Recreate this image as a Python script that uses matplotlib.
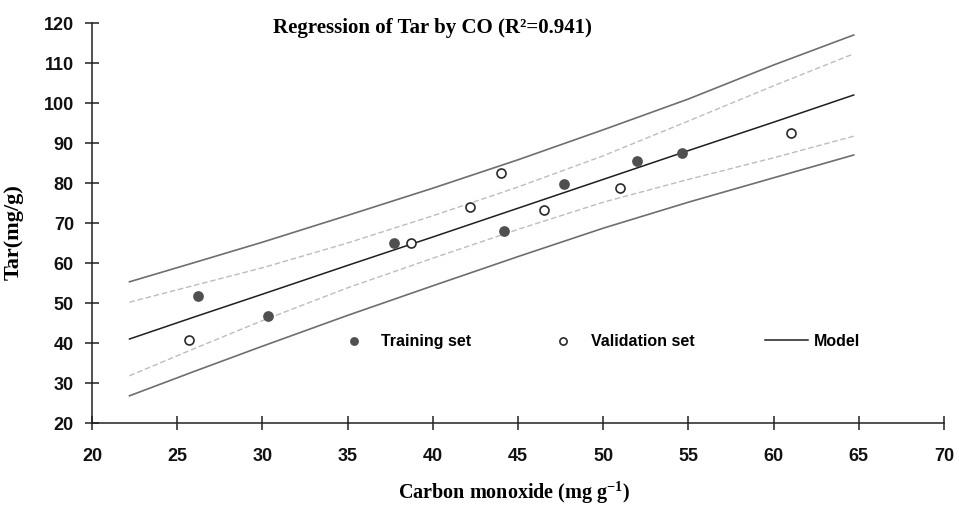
import matplotlib
matplotlib.use("Agg")
import numpy as np
from matplotlib import pyplot as plt

# points
train_x = [26.2, 30.3, 37.7, 44.2, 47.7, 52.0, 54.6]
train_y = [51.8, 46.7, 65.0, 68.0, 79.8, 85.5, 87.4]
valid_x = [25.7, 38.7, 42.2, 44.0, 46.5, 51.0, 61.0]
valid_y = [40.7, 65.0, 73.9, 82.5, 73.3, 78.7, 92.4]

# model line and interval bands
band_x = [22.2, 26, 30, 35, 40, 45, 50, 55, 60, 64.7]
model_y = [41.0, 46.5, 52.2, 59.4, 66.5, 73.7, 80.9, 88.1, 95.2, 102.0]
pi_upper = [55.3, 60.1, 65.2, 71.9, 78.7, 85.8, 93.3, 101.0, 109.5, 117.0]
pi_lower = [26.8, 32.9, 39.2, 46.9, 54.3, 61.6, 68.7, 75.2, 81.3, 87.0]
ci_upper = [50.2, 54.4, 58.8, 65.0, 71.8, 79.0, 86.8, 95.5, 104.3, 112.3]
ci_lower = [31.8, 38.6, 45.6, 53.8, 61.2, 68.4, 75.2, 80.9, 86.3, 91.7]

x_ticks = np.arange(20, 71, 5)
y_ticks = np.arange(20, 121, 10)

plt.rcParams["mathtext.fontset"] = "custom"
plt.rcParams["mathtext.rm"] = "Liberation Serif:bold"
plt.rcParams["mathtext.bf"] = "Liberation Serif:bold"

tick_font = ["Liberation Sans", "DejaVu Sans"]
serif_font = ["Liberation Serif", "DejaVu Serif"]

fig = plt.figure(figsize=(9.59, 5.10), dpi=100)
ax = fig.add_axes([92 / 959, 1 - 424 / 510, 852 / 959, 400 / 510])

ax.plot(band_x, pi_upper, color="#6e6e6e", lw=1.2)
ax.plot(band_x, pi_lower, color="#6e6e6e", lw=1.2)
ax.plot(band_x, ci_upper, color="#bdbdbd", lw=1.0, ls=(0, (4, 2)))
ax.plot(band_x, ci_lower, color="#bdbdbd", lw=1.0, ls=(0, (4, 2)))
ax.plot(band_x, model_y, color="#1e1e1e", lw=1.1, label="Model", zorder=3)

ax.scatter(train_x, train_y, s=45, color="#505050", edgecolors="#505050",
           label="Training set", zorder=4)
ax.scatter(valid_x, valid_y, s=42, facecolors="white", edgecolors="#2a2a2a",
           linewidths=1.2, label="Validation set", zorder=4)

ax.set_xlim(20, 70)
ax.set_ylim(20, 120)
ax.set_xticks(x_ticks)
ax.set_yticks(y_ticks)
ax.spines[["top", "right"]].set_visible(False)
for s in ("left", "bottom"):
    ax.spines[s].set_color("#222222")
    ax.spines[s].set_linewidth(1.1)
ax.tick_params(direction="inout", length=10, width=1.1, color="#222222")
ax.tick_params(axis="y", pad=8)
ax.tick_params(axis="x", pad=12)
for lab in ax.get_xticklabels() + ax.get_yticklabels():
    lab.set_family(tick_font)
    lab.set_fontsize(13)
    lab.set_fontweight("bold")
    lab.set_color("#111111")

handles, labels = ax.get_legend_handles_labels()
order = [labels.index("Training set"), labels.index("Validation set"),
         labels.index("Model")]
leg = ax.legend([handles[i] for i in order], [labels[i] for i in order],
                ncol=3, frameon=False, loc="center left",
                bbox_to_anchor=(332 / 959, 1 - 342 / 510),
                bbox_transform=fig.transFigure, borderpad=0,
                borderaxespad=0, handlelength=2.7, handletextpad=0.35,
                columnspacing=4.45, markerscale=0.8,
                prop={"family": tick_font, "size": 11.5, "weight": "bold"})

fig.text(432 / 959, 1 - 28 / 510, "Regression of Tar by CO (R\u00b2=0.941)",
         ha="center", va="center", family=serif_font, fontweight="bold",
         fontsize=15)
fig.text(514 / 959, 1 - 493 / 510, r"Carbon monoxide (mg g$^{-1}$)",
         ha="center", va="center", family=serif_font, fontweight="bold",
         fontsize=14.5)
fig.text(14 / 959, 1 - 232 / 510, "Tar(mg/g)", rotation=90,
         ha="center", va="center", family=serif_font, fontweight="bold",
         fontsize=16)

fig.savefig("out.png", dpi=100)
